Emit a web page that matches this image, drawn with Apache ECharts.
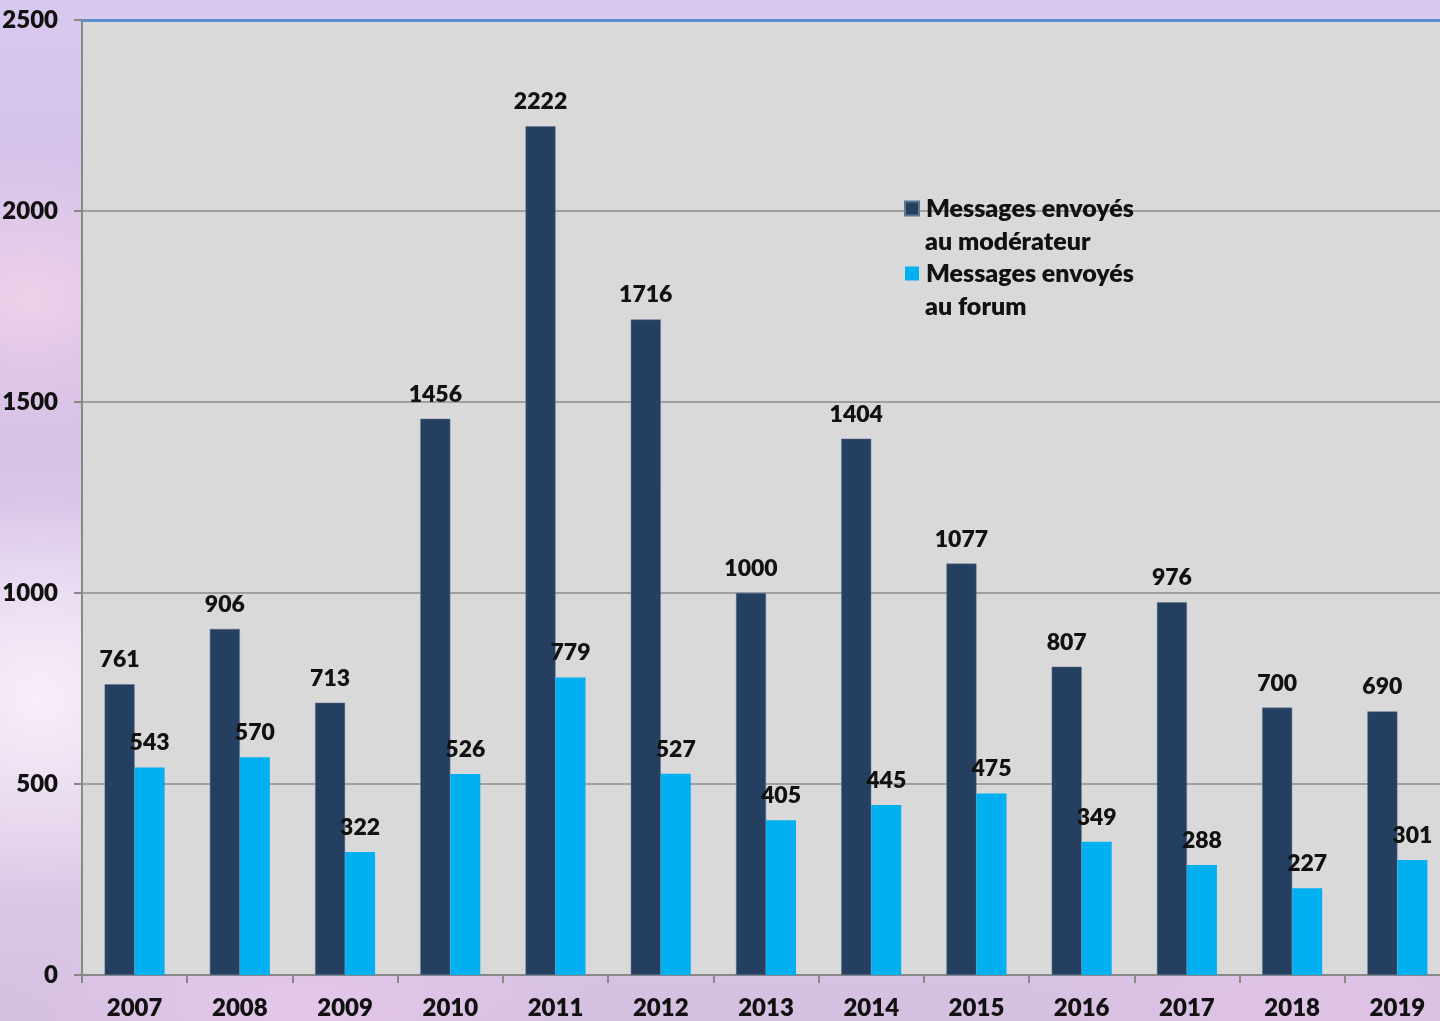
<!DOCTYPE html>
<html>
<head>
<meta charset="utf-8">
<script src="https://cdn.jsdelivr.net/npm/echarts@6/dist/echarts.min.js"></script>
<style>
html, body {
  margin: 0;
  padding: 0;
  width: 1440px;
  height: 1021px;
  overflow: hidden;
}
body {
  background:
    radial-gradient(ellipse 220px 160px at 30px 300px, rgba(245, 215, 235, 0.8), rgba(245, 215, 235, 0) 100%),
    radial-gradient(ellipse 200px 200px at 40px 700px, rgba(250, 240, 250, 0.9), rgba(250, 240, 250, 0) 100%),
    radial-gradient(ellipse 300px 120px at 300px 1010px, rgba(230, 200, 235, 0.9), rgba(230, 200, 235, 0) 100%),
    radial-gradient(ellipse 300px 120px at 1300px 1010px, rgba(225, 195, 230, 0.9), rgba(225, 195, 230, 0) 100%),
    linear-gradient(180deg, #d9c9ee 0%, #cdb8e3 35%, #e6d6ef 65%, #d4bfe0 100%);
}
#chart {
  width: 1440px;
  height: 1021px;
}
</style>
</head>
<body>
<div id="chart"></div>
<script>
const years = ['2007', '2008', '2009', '2010', '2011', '2012', '2013', '2014', '2015', '2016', '2017', '2018', '2019'];
const moderateur = [761, 906, 713, 1456, 2222, 1716, 1000, 1404, 1077, 807, 976, 700, 690];
const forum = [543, 570, 322, 526, 779, 527, 405, 445, 475, 349, 288, 227, 301];
const yTicks = [0, 500, 1000, 1500, 2000, 2500];
const seriesNames = ['Messages envoyés', 'Messages envoyés '];
const legendSecondLines = ['au modérateur', 'au forum'];

const font = 'Lato, "Open Sans", sans-serif';
const weight = 800;

const chart = echarts.init(document.getElementById('chart'));

const labelStyle = {
  show: true,
  position: 'top',
  distance: 13,
  color: '#111',
  fontFamily: font,
  fontWeight: weight,
  fontSize: 23
};

const option = {
  animation: false,
  grid: {
    left: 82,
    width: 1368,
    top: 20,
    bottom: 46,
    outerBoundsMode: 'none',
    show: true,
    backgroundColor: '#d9d9d9',
    borderWidth: 0
  },
  legend: {
    orient: 'vertical',
    left: 899,
    top: 191,
    itemWidth: 14,
    itemHeight: 14,
    itemGap: 40,
    icon: 'rect',
    textStyle: {
      fontFamily: font,
      fontWeight: weight,
      fontSize: 25,
      color: '#111',
      padding: [0, 0, 0, 2]
    },
    data: seriesNames
  },
  graphic: legendSecondLines.map((t, i) => ({
    type: 'text',
    left: 925,
    top: 229 + i * 65,
    style: {
      text: t,
      fill: '#111',
      font: weight + ' 25px ' + font
    }
  })),
  xAxis: [
    {
      type: 'category',
      data: years,
      axisLine: { lineStyle: { color: '#888', width: 2 } },
      axisTick: { show: true, length: 8, alignWithLabel: false, lineStyle: { color: '#888', width: 2 } },
      axisLabel: {
        margin: 21,
        color: '#111',
        fontFamily: font,
        fontWeight: weight,
        fontSize: 24
      }
    },
    {
      type: 'category',
      position: 'top',
      data: years,
      axisLine: { lineStyle: { color: '#5b8fcf', width: 3 } },
      axisTick: { show: false },
      axisLabel: { show: false }
    }
  ],
  yAxis: {
    type: 'value',
    min: yTicks[0],
    max: yTicks[yTicks.length - 1],
    interval: 500,
    axisLine: { show: true, lineStyle: { color: '#888', width: 2 } },
    axisTick: { show: true, length: 8, lineStyle: { color: '#888', width: 2 } },
    splitLine: { lineStyle: { color: '#8c8c8c', width: 1.5 } },
    axisLabel: {
      margin: 24,
      color: '#111',
      fontFamily: font,
      fontWeight: weight,
      fontSize: 24,
      formatter: v => String(v)
    }
  },
  series: [
    {
      name: seriesNames[0],
      type: 'bar',
      data: moderateur,
      barWidth: 30,
      barGap: '0%',
      itemStyle: { color: '#243f60', borderColor: '#5f7590', borderWidth: 0.5 },
      label: labelStyle
    },
    {
      name: seriesNames[1],
      type: 'bar',
      data: forum,
      barWidth: 30,
      barGap: '0%',
      itemStyle: { color: '#00b0f0' },
      label: labelStyle
    }
  ]
};

chart.setOption(option);
</script>
</body>
</html>
